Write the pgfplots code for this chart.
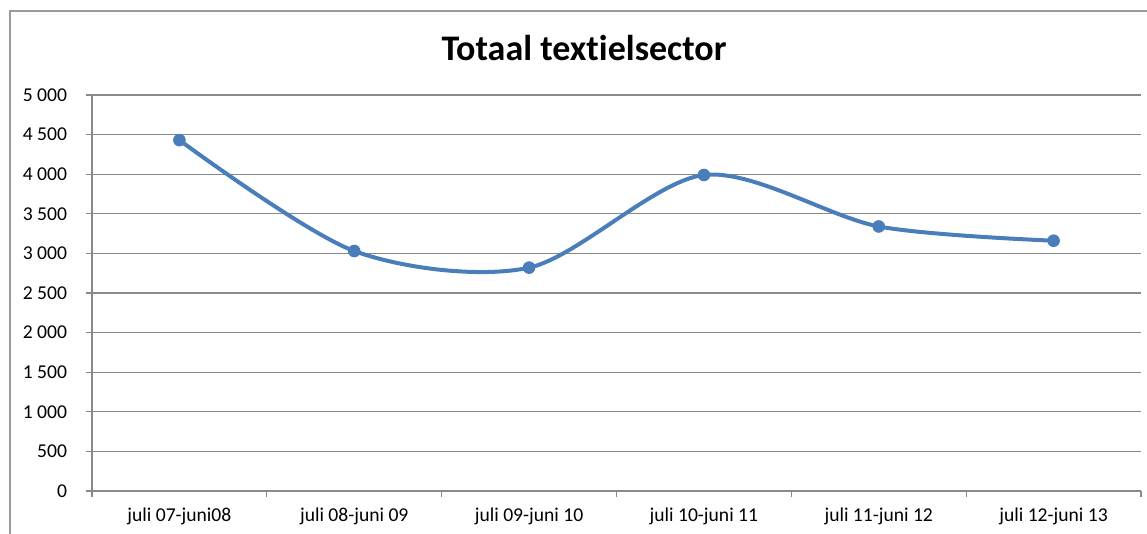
\documentclass[border=0pt]{standalone}
\usepackage{pgfplots}
\pgfplotsset{compat=1.18}
\usepackage{fontspec}
\setmainfont{Carlito}[Ligatures=NoCommon]
\definecolor{linecol}{HTML}{4A7EBB}
\definecolor{gridcol}{HTML}{898989}
\definecolor{bordercol}{HTML}{9A9A9A}
\begin{document}
\begin{tikzpicture}
\clip (0,0) rectangle (573.5pt,267pt);
\path[use as bounding box] (0,0) rectangle (573.5pt,267pt);
\draw[bordercol, line width=0.6pt] (5pt,-10pt) -- (5pt,261.5pt) -- (590pt,261.5pt);
\node[font=\fontsize{18}{21}\selectfont\bfseries, anchor=base] at (292pt,236.5pt) {Totaal textielsector};
\begin{axis}[
  at={(46pt,21.5pt)}, anchor=south west,
  scale only axis, width=524.5pt, height=198pt,
  xmin=-0.5, xmax=5.5, ymin=0, ymax=5000,
  axis x line*=bottom, axis y line*=left,
  axis line style={gridcol, line width=0.6pt},
  ytick={0,500,...,5000},
  yticklabels={0,500,1 000,1 500,2 000,2 500,3 000,3 500,4 000,4 500,5 000},
  xtick={0,...,5},
  xticklabels={juli 07-juni08,juli 08-juni 09,juli 09-juni 10,juli 10-juni 11,juli 11-juni 12,juli 12-juni 13},
  minor xtick={-0.5,0.5,...,5.5},
  major x tick style={draw=none},
  tick align=outside,
  major tick length=3pt, minor tick length=3pt,
  tick style={gridcol, line width=0.6pt},
  ymajorgrids, major grid style={gridcol, line width=0.6pt},
  tick label style={font=\fontsize{9.8}{11}\selectfont},
  yticklabel style={xshift=-6pt},
  xticklabel style={yshift=-2pt},
  clip=false,
]
\addplot[linecol, line width=2pt, smooth, mark=*, mark size=2.9pt, mark options={fill=linecol, draw=linecol, line width=0.5pt}]
  coordinates {(0,4430) (1,3030) (2,2820) (3,3990) (4,3340) (5,3160)};
\end{axis}
\end{tikzpicture}
\end{document}
